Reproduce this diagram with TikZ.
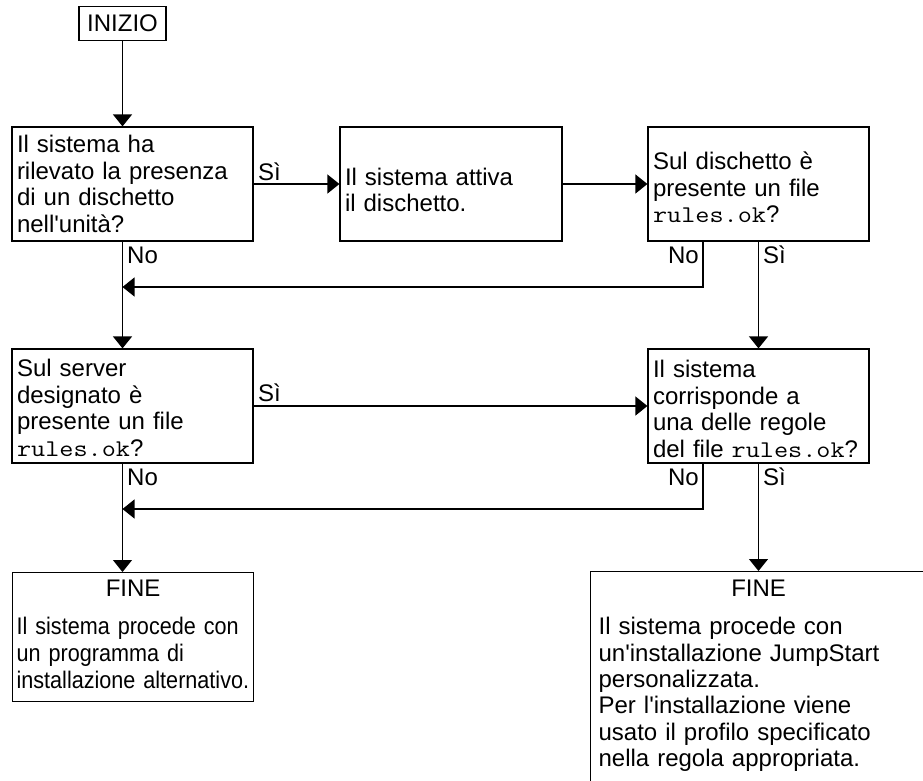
\documentclass[tikz,border=0pt]{standalone}
\usepackage{fontspec}
\setmainfont{Liberation Sans}
\newfontfamily\condsans{Liberation Sans}[FakeStretch=0.9]
\newfontfamily\courlike{Latin Modern Mono}[FakeStretch=1.143]
\usetikzlibrary{arrows.meta}
\newcommand\myfs{\fontsize{24}{26.5}\selectfont}
\newcommand\rok{{\courlike rules.ok}}
\newcommand\apo{\textquotesingle}
\begin{document}
\begin{tikzpicture}[x=1pt,y=-1pt,
  box/.style={draw, line width=1.2pt, inner xsep=5pt, inner ysep=0pt, align=left, font=\myfs, minimum height=114pt},
  arr/.style={line width=1.2pt, -{Triangle[length=12pt,width=19pt]}},
  lbl/.style={inner sep=0pt, anchor=base west, font=\myfs}]
\useasboundingbox (0,0) rectangle (923,780);
\clip (0,0) rectangle (923,780);
\node[draw, line width=1.2pt, inner sep=0pt, minimum width=87pt, minimum height=34pt, font=\myfs] (start) at (122.5,23.5) {INIZIO};
\node[box, text width=231pt] (b1) at (132.5,184) {Il sistema ha\\rilevato la presenza\\di un dischetto\\nell\apo unità?};
\node[box, text width=212pt] (b2) at (451,184) {\rule{0pt}{29pt}Il sistema attiva\\il dischetto.};
\node[box, text width=211pt] (b3) at (758.5,184) {\rule{0pt}{25pt}Sul dischetto è\\presente un file\\\rok?};
\node[box, text width=231pt] (b4) at (132.5,406) {\rule{0pt}{21pt}Sul server\\designato è\\presente un file\\\rok?};
\node[box, text width=211pt] (b5) at (758.5,406) {\rule{0pt}{23pt}Il sistema\\corrisponde a\\una delle regole\\del file \rok?};
\node[draw, line width=1.2pt, anchor=north west, inner xsep=4pt, inner ysep=7pt, text width=233pt, minimum height=129pt, align=left, font=\fontsize{24}{27}\selectfont] (f1) at (12,572)
  {\makebox[\linewidth]{FINE}\\[11pt]{\condsans Il sistema procede con}\\{\condsans un programma di}\\{\condsans installazione alternativo.}\rule[-6pt]{0pt}{6pt}};
\node[draw, line width=1.2pt, anchor=north west, inner xsep=8pt, inner ysep=8.8pt, text width=320pt, align=left, font=\fontsize{24}{26.3}\selectfont] (f2) at (590,571)
  {\makebox[\linewidth]{FINE}\\[11.7pt]Il sistema procede con\\un\apo installazione JumpStart\\personalizzata.\\Per l\apo installazione viene\\usato il profilo specificato\\nella regola appropriata.\rule[-14pt]{0pt}{14pt}};
\coordinate (x1) at (703,0);
\coordinate (j1) at (122.5,287);
\coordinate (j2) at (122.5,509);
\draw[arr] (start.south) -- (start.south |- b1.north);
\draw[arr] (b1.east) -- (b2.west);
\draw[arr] (b2.east) -- (b3.west);
\draw[arr] (b3.south -| x1) |- (j1);
\draw[arr] (b1.south -| start.south) -- (b4.north -| start.south);
\draw[arr] (b3.south) -- (b5.north);
\draw[arr] (b4.east) -- (b5.west);
\draw[arr] (b4.south -| start.south) -- (f1.north -| start.south);
\draw[arr] (b5.south -| x1) |- (j2);
\draw[arr] (b5.south) -- (b5.south |- f2.north);
\node[lbl] (l1) at (258,180) {Sì};
\node[lbl] (l2) at (127,263) {No};
\node[lbl, anchor=base east] (l3) at (699,263) {No};
\node[lbl] (l4) at (763,263) {Sì};
\node[lbl] (l5) at (258,401) {Sì};
\node[lbl] (l6) at (127,485) {No};
\node[lbl, anchor=base east] (l7) at (699,485) {No};
\node[lbl] (l8) at (763,485) {Sì};
\end{tikzpicture}
\end{document}
